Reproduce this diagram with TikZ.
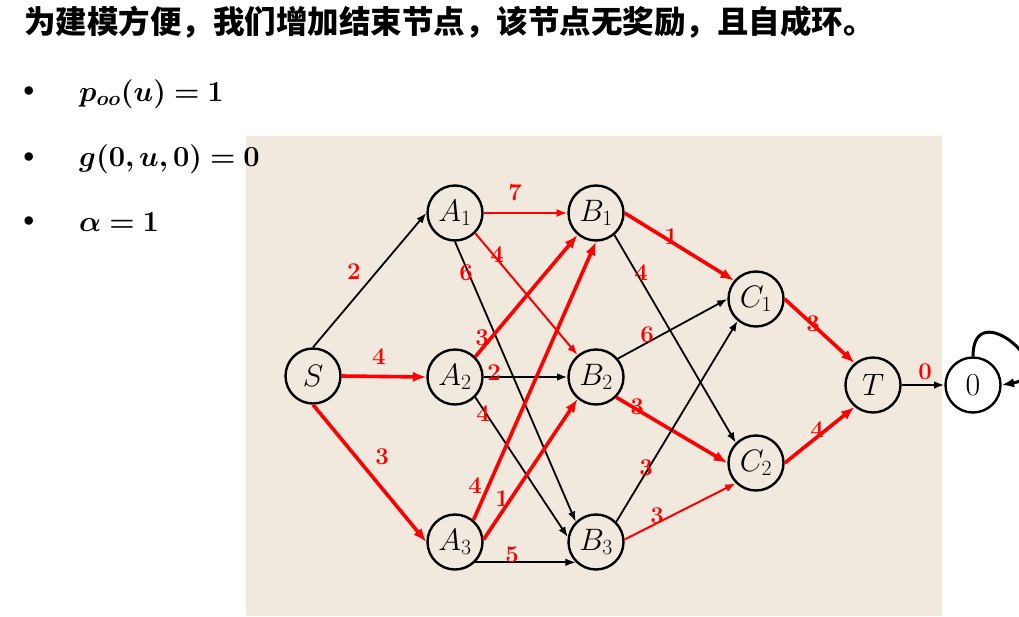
\RequirePackage{fix-cm}
\documentclass[tikz,border=0pt]{standalone}
\usepackage{amsmath,amssymb,bm}
\usepackage{fontspec}
\newfontfamily\cjk{Noto Sans CJK SC}
\usetikzlibrary{arrows.meta}
\definecolor{beige}{RGB}{242,233,222}

\begin{document}
\begin{tikzpicture}[x=1pt,y=-1pt,
    vertex/.style={circle,draw,line width=2.4pt,minimum size=55pt,inner sep=0pt,font=\fontsize{31}{31}\selectfont},
    wt/.style={red,inner sep=0pt,font=\fontsize{24}{24}\selectfont\bfseries},
    blk/.style={black,line width=1.8pt,-{Latex[length=7pt 1.8,width=5pt 1.5]}},
    hot/.style={red,line width=3.6pt,-{Latex[length=7pt 1.8,width=5pt 1.5]}},
    warm/.style={red,line width=2pt,-{Latex[length=7pt 1.8,width=5pt 1.5]}}]
        \useasboundingbox (0,0) rectangle (1019,616);
        \fill[beige] (246,136) rectangle (942,616);
        % heading and bullets
        \node[anchor=west,inner sep=0pt,font=\cjk\bfseries\fontsize{31.5}{31.5}\selectfont] (title) at (24,22) {为建模方便，我们增加结束节点，该节点无奖励，且自成环。};
        \node[inner sep=0pt,font=\fontsize{22}{22}\selectfont] (b1) at (29,92) {$\bullet$};
        \node[inner sep=0pt,font=\fontsize{22}{22}\selectfont] (b2) at (29,158) {$\bullet$};
        \node[inner sep=0pt,font=\fontsize{22}{22}\selectfont] (b3) at (29,222) {$\bullet$};
        \node[anchor=west,inner sep=0pt,font=\fontsize{29}{29}\selectfont] (e1) at (79,94) {$\bm{p_{oo}(u)=1}$};
        \node[anchor=west,inner sep=0pt,font=\fontsize{29}{29}\selectfont] (e2) at (79,159) {$\bm{g(0,u,0)=0}$};
        \node[anchor=west,inner sep=0pt,font=\fontsize{29}{29}\selectfont] (e3) at (79,222) {$\bm{\alpha=1}$};
        % states
        \node[vertex] (S) at (313,376) {$S$};
        \node[vertex] (A1) at (455,213) {$A_1$};
        \node[vertex] (A2) at (455,377) {$A_2$};
        \node[vertex] (A3) at (455,542) {$A_3$};
        \node[vertex] (B1) at (596,213) {$B_1$};
        \node[vertex] (B2) at (596,377) {$B_2$};
        \node[vertex] (B3) at (596,542) {$B_3$};
        \node[vertex] (C1) at (756,299) {$C_1$};
        \node[vertex] (C2) at (756,463) {$C_2$};
        \node[vertex] (T) at (873,385) {$T$};
        \node[vertex,font=\fontsize{32}{32}\selectfont] (zero) at (973,385) {0};
        % transitions
        \draw[blk](S.north)--(A1.west);
        \draw[hot](S.east)--(A2.west);
        \draw[hot](S.south)--(A3.west);
        \draw[warm](A1.east)--(B1.west);
        \draw[warm](A1.-45)--(B2.130);
        \draw[blk](A1.-90)--(B3.135);
        \draw[hot](A2.45)--(B1.-130);
        \draw[blk](A2.east)--(B2.west);
        \draw[blk](A2.-45)--(B3.170);
        \draw[hot](A3.50)--(B1.-90);
        \draw[hot](A3.5)--(B2.-130);
        \draw[blk](A3.-45)--(B3.-135);
        \draw[hot](B1.east)--(C1.140);
        \draw[blk](B1.-50)--(C2.135);
        \draw[blk](B2.40)--(C1.west);
        \draw[hot](B2.-45)--(C2.west);
        \draw[blk](B3.45)--(C1.-130);
        \draw[warm](B3.5)--(C2.-135);
        \draw[hot](C1.east)--(T.130);
        \draw[hot](C2.east)--(T.-130);
        \draw[blk](T.east)--(zero.west);
        \draw[blk,line width=3pt](zero.north) to[out=90,in=10,looseness=4] (zero.east);
        % weights
        \node[wt] (w1) at (354,272) {2};
        \node[wt] (w2) at (379,357) {4};
        \node[wt] (w3) at (382,457) {3};
        \node[wt] (w4) at (515,193) {7};
        \node[wt] (w5) at (497,255) {4};
        \node[wt] (w6) at (466,273) {6};
        \node[wt] (w7) at (482,338) {3};
        \node[wt] (w8) at (494,373) {2};
        \node[wt] (w9) at (483,414) {4};
        \node[wt] (w10) at (475,486) {4};
        \node[wt] (w11) at (502,499) {1};
        \node[wt] (w12) at (512,555) {5};
        \node[wt] (w13) at (671,237) {1};
        \node[wt] (w14) at (641,273) {4};
        \node[wt] (w15) at (647,335) {6};
        \node[wt] (w16) at (637,407) {3};
        \node[wt] (w17) at (646,468) {3};
        \node[wt] (w18) at (657,516) {3};
        \node[wt] (w19) at (813,324) {3};
        \node[wt] (w20) at (817,430) {4};
        \node[wt] (w21) at (925,372) {0};
    \end{tikzpicture}
\end{document}
